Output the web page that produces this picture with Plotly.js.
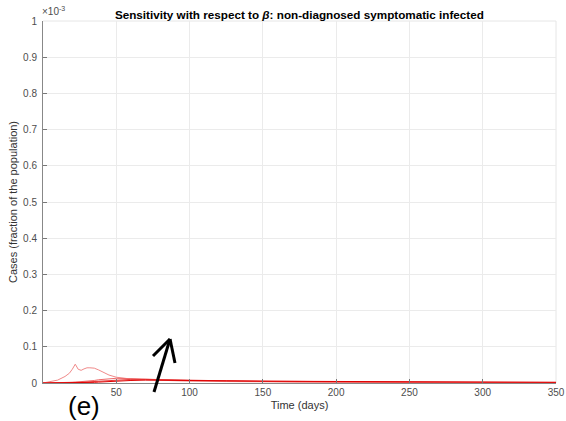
<!DOCTYPE html>
<html>
<head>
<meta charset="utf-8">
<script src="https://cdn.plot.ly/plotly-3.0.1.min.js"></script>
<style>html,body{margin:0;padding:0;background:#fff;}#chart{width:566px;height:421px;}</style>
</head>
<body>
<div id="chart"></div>
<script>
// Time in days
const days = [0,5,10,15,18,20,22,24,26,28,30,32,35,38,40,45,50,60,70,80,90,100,125,150,175,200,250,300,350];
// Values in units of 1e-3 (fraction of the population)
const caseA = [0,0.003,0.008,0.018,0.027,0.038,0.052,0.038,0.035,0.039,0.042,0.042,0.041,0.036,0.032,0.022,0.016,0.011,0.009,0.007,0.006,0.005,0.004,0.003,0.0025,0.002,0.0015,0.001,0.001];
const caseB = [0,0,0.0005,0.001,0.0015,0.002,0.0025,0.003,0.0035,0.004,0.005,0.0055,0.007,0.009,0.010,0.012,0.013,0.012,0.010,0.009,0.008,0.007,0.005,0.004,0.003,0.0025,0.002,0.0015,0.001];
const caseC = [0,0,0,0.0005,0.0008,0.001,0.0012,0.0015,0.002,0.0025,0.003,0.0035,0.0045,0.0055,0.006,0.0075,0.009,0.010,0.010,0.009,0.008,0.007,0.006,0.005,0.004,0.003,0.0025,0.002,0.0015];
const caseD = [0,0,0,0,0.0003,0.0005,0.0006,0.0007,0.0008,0.0009,0.001,0.0012,0.0018,0.0025,0.003,0.004,0.005,0.007,0.008,0.008,0.008,0.007,0.006,0.005,0.0045,0.004,0.003,0.0025,0.002];
const seriesList = [caseA, caseB, caseC, caseD];
const seriesColors = ['#f08a8a','#ef6a6a','#e83c3c','#e00000'];
const xTicks = [50,100,150,200,250,300,350];
const yTicks = [0,0.1,0.2,0.3,0.4,0.5,0.6,0.7,0.8,0.9,1];
const yTickText = ['0','0.1','0.2','0.3','0.4','0.5','0.6','0.7','0.8','0.9','1'];

const traces = seriesList.map((s,i)=>({
  x: days, y: s, type:'scatter', mode:'lines',
  line:{color:seriesColors[i], width:1}, hoverinfo:'skip', showlegend:false
}));

// Arrow in paper coordinates (annotation, not data)
const arrowStyle = {color:'#000', width:3};
const shapes = [
  {type:'line', xref:'paper', yref:'paper', x0:0.2164, y0:-0.0249, x1:0.2476, y1:0.1215, line:arrowStyle, layer:'above'},
  {type:'line', xref:'paper', yref:'paper', x0:0.2476, y0:0.1215, x1:0.2144, y1:0.0746, line:arrowStyle, layer:'above'},
  {type:'line', xref:'paper', yref:'paper', x0:0.2476, y0:0.1215, x1:0.2573, y1:0.0552, line:arrowStyle, layer:'above'},
  {type:'line', xref:'paper', yref:'paper', x0:0, y0:1, x1:1, y1:1, line:{color:'#e6e6e6', width:1}, layer:'below'},
  {type:'line', xref:'paper', yref:'paper', x0:1, y0:0, x1:1, y1:1, line:{color:'#e6e6e6', width:1}, layer:'below'}
];

const layout = {
  width:566, height:421,
  margin:{l:43, r:10, t:21, b:38},
  paper_bgcolor:'#fff', plot_bgcolor:'#fff',
  font:{family:'Liberation Sans, Arial, sans-serif', color:'#4d4d4d', size:10},
  title:{text:'<b>Sensitivity with respect to <i>β</i>: non-diagnosed symptomatic infected</b>', x:0.529, xanchor:'center', y:0.965, yanchor:'middle', font:{size:11.7, color:'#000'}},
  xaxis:{range:[0,350], tickvals:xTicks, ticks:'inside', ticklen:4, tickcolor:'#777', showgrid:true, gridcolor:'#ebebeb', zeroline:false,
    showline:true, linecolor:'#888', linewidth:1, mirror:false,
    title:{text:'Time (days)', font:{size:11, color:'#333'}, standoff:4}, tickfont:{size:10, color:'#4d4d4d'}},
  yaxis:{range:[0,1], tickvals:yTicks, ticktext:yTickText, ticks:'inside', ticklen:4, tickcolor:'#777', showgrid:true, gridcolor:'#ebebeb', zeroline:false,
    showline:true, linecolor:'#888', linewidth:1, mirror:false, ticklabelstandoff:3,
    title:{text:'Cases (fraction of the population)', font:{size:11, color:'#333'}, standoff:3}, tickfont:{size:10, color:'#4d4d4d'}},
  shapes: shapes,
  annotations:[
    {text:'×10<sup>-3</sup>', xref:'paper', yref:'paper', x:-0.005, y:1.005, xanchor:'left', yanchor:'bottom', showarrow:false, font:{size:10, color:'#4d4d4d'}},
    {text:'(e)', xref:'paper', yref:'paper', x:0.08, y:-0.064, xanchor:'center', yanchor:'middle', showarrow:false, font:{size:26, color:'#000'}}
  ]
};

Plotly.newPlot('chart', traces, layout, {displayModeBar:false, staticPlot:true});
</script>
</body>
</html>
